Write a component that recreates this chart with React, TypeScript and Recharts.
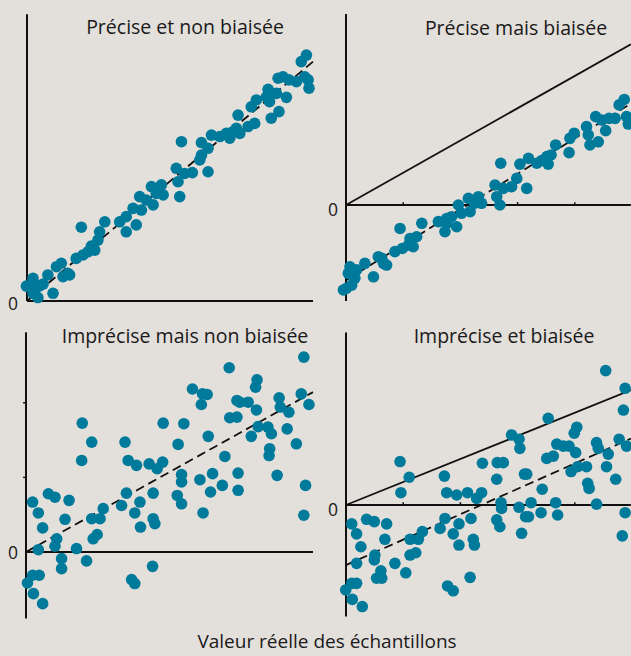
import { ScatterChart, Scatter, XAxis, YAxis, ReferenceLine } from 'recharts';

const BG = '#e3dfda';
const DOT = '#007a9a';
const FONT = '"Open Sans", "Noto Sans", sans-serif';

// [valeur réelle, valeur mesurée] — x de 0 à 100
const preciseUnbiased: [number, number][] = [
  [-0.2, 5.2], [2.1, 7.9], [1.5, 4.8], [3.8, 1.2], [4.2, 5.2], [5.6, 5.9], [7.3, 9.1], [9.1, 2.7],
  [10.3, 12.0], [12.0, 13.2], [12.6, 8.5], [14.3, 9.7], [17.2, 14.9], [19.0, 25.8], [19.6, 16.1],
  [21.3, 17.2], [22.5, 19.2], [23.7, 17.8], [24.8, 21.3], [25.4, 24.2], [27.2, 27.7], [32.4, 27.7],
  [34.7, 29.5], [34.7, 24.2], [37.1, 32.4], [38.2, 26.6], [39.4, 36.5], [40.0, 31.8], [41.7, 35.3],
  [43.5, 40.0], [44.1, 33.6], [45.2, 37.6], [47.0, 40.6], [47.6, 37.1], [52.2, 46.4], [52.8, 41.7],
  [53.4, 36.5], [54.0, 55.7], [55.1, 44.6], [57.8, 44.9], [60.4, 49.3], [61.0, 51.0], [61.0, 55.4],
  [63.3, 53.4], [63.3, 45.2], [64.5, 58.0], [67.4, 57.5], [69.7, 58.6], [70.9, 56.9], [72.0, 59.2],
  [73.2, 60.4], [73.8, 65.0], [74.4, 58.6], [77.3, 61.0], [78.4, 67.9], [80.2, 70.3], [79.6, 62.1],
  [83.7, 71.4], [84.3, 74.0], [84.8, 69.7], [85.4, 63.9], [88.1, 66.2], [87.2, 72.6], [87.8, 77.9],
  [89.5, 78.4], [90.7, 71.2], [91.6, 77.3], [94.2, 76.7], [95.9, 83.7], [97.1, 78.4], [97.7, 86.0],
  [98.6, 74.4], [98.3, 77.3], [2.1, 2.7], [14.9, 9.1],
];

const preciseBiased: [number, number][] = [
  [-0.9, -29.7], [1.4, -21.6], [2.0, -28.0], [3.1, -25.6], [3.7, -22.7], [6.6, -20.4], [9.6, -25.1],
  [11.3, -18.1], [13.1, -20.4], [14.2, -21.0], [17.1, -16.3], [18.9, -8.2], [19.7, -15.2], [21.8, -14.0],
  [22.4, -11.7], [23.5, -14.6], [24.7, -11.1], [26.5, -6.4], [32.3, -5.8], [34.6, -9.3], [35.2, -4.7],
  [36.9, -4.1], [38.7, -7.6], [39.3, 0], [40.4, -2.9], [42.8, 2.3], [43.4, -2.3], [44.9, 0.6],
  [46.3, 2.9], [47.4, 0.6], [52.1, 7.0], [52.7, 2.9], [53.8, 0], [54.1, 14.6], [55.0, 5.8], [57.9, 6.4],
  [59.7, 9.3], [60.8, 14.3], [63.2, 5.8], [63.8, 16.3], [66.7, 14.6], [68.4, 15.5], [70.2, 16.9],
  [70.7, 14.3], [71.7, 17.5], [73.3, 21.0], [78.0, 18.3], [78.3, 23.3], [79.8, 25.1], [84.1, 27.4],
  [84.7, 24.5], [85.3, 21.0], [87.3, 30.9], [88.2, 22.1], [89.4, 29.7], [90.8, 26.0], [92.0, 30.3],
  [94.1, 30.3], [95.5, 35.0], [97.3, 36.9], [98.1, 30.9], [98.7, 28.3], [0.2, -29.1], [0.8, -23.9],
  [12.5, -18.6], [35.2, -6.4],
];

const impreciseUnbiased: [number, number][] = [
  [2.3, 17.4], [4.3, 13.6], [4.3, 0.8], [5.8, 8.4], [7.8, 20.3], [10.1, 19.1], [10.7, 4.6], [10.1, 2.0],
  [12.4, -2.3], [12.4, -5.8], [13.6, 11.4], [15.0, 18.0], [17.6, 1.2], [19.6, 44.9], [19.4, 31.9],
  [21.1, -3.1], [22.9, 38.3], [22.9, 11.6], [23.4, 4.6], [24.8, 6.1], [25.8, 11.6], [26.9, 15.1],
  [33.3, 16.2], [34.5, 38.3], [35.0, 20.5], [35.6, 31.9], [37.9, 13.6], [38.5, 30.2], [39.7, 17.4],
  [39.9, 8.7], [42.9, 30.7], [44.3, 20.5], [44.3, 11.6], [44.9, 9.9], [45.7, 29.0], [47.6, 31.3],
  [47.8, 44.9], [53.0, 37.5], [52.7, 19.7], [54.2, 16.8], [54.2, 27.0], [54.2, 24.4], [55.0, 44.7],
  [58.0, 56.8], [60.6, 25.2], [61.1, 51.4], [61.7, 13.6], [61.5, 55.1], [63.1, 54.9], [63.5, 40.3],
  [64.3, 20.9], [65.0, 27.3], [68.4, 23.2], [69.3, 33.3], [70.8, 64.2], [71.0, 46.8], [73.5, 52.8],
  [73.5, 47.0], [73.9, 27.5], [73.9, 21.5], [77.4, 52.2], [78.5, 40.3], [80.3, 49.5], [80.5, 60.0],
  [80.0, 57.4], [80.9, 43.7], [84.3, 43.5], [84.9, 36.0], [84.7, 33.6], [85.5, 41.2], [87.5, 26.7],
  [88.2, 53.7], [88.6, 50.5], [91.0, 42.9], [91.6, 48.7], [94.2, 37.7], [95.9, 55.1], [96.8, 67.9],
  [97.4, 23.2], [96.8, 12.8], [98.6, 51.4], [44.1, -5.0], [36.8, -9.6], [37.9, -11.0], [2.3, -8.1],
  [4.6, -8.1], [0.5, -10.8], [2.6, -14.5], [5.8, -18.0], [74.5, 52.2],
];

const impreciseBiased: [number, number][] = [
  [-0.1, -29.7], [2.0, -27.4], [3.7, -27.4], [2.0, -6.6], [3.7, -10.1], [3.7, -20.4], [5.2, -14.6],
  [2.2, -33.0], [5.7, -35.5], [7.2, -5.0], [9.9, -5.8], [10.1, -17.5], [9.9, -19.2], [10.7, -25.6],
  [12.5, -25.6], [12.2, -23.0], [13.6, -12.0], [14.2, -6.6], [17.1, -20.4], [18.9, 15.2], [19.2, 4.3],
  [20.9, -23.7], [22.1, 9.7], [22.4, -17.5], [22.4, -12.0], [24.4, -16.7], [25.3, -12.0], [26.7, -9.3],
  [32.9, -8.2], [34.4, 10.1], [34.6, -4.7], [35.2, 4.3], [35.5, -28.3], [37.5, -30.0], [37.5, -10.1],
  [38.7, 3.5], [39.5, -6.6], [39.5, -14.0], [42.5, 4.3], [43.7, -4.7], [43.4, -25.3], [44.5, -12.0],
  [44.9, -14.0], [45.7, 2.3], [47.4, 4.3], [47.7, 14.6], [52.7, 9.0], [52.7, -5.2], [53.8, -7.6],
  [54.2, 0.8], [54.4, -1.2], [55.0, 14.8], [57.9, 24.5], [60.5, 23.0], [60.8, 19.8], [60.5, -0.8],
  [61.4, -9.9], [62.8, -4.1], [63.2, 10.8], [63.8, -4.1], [64.7, 0.8], [68.2, -2.7], [68.6, 5.5],
  [70.2, 16.3], [70.7, 30.3], [72.5, 17.1], [73.3, 0.8], [73.7, 21.3], [74.0, -3.5], [76.0, 20.6],
  [78.0, 20.6], [78.7, 11.7], [79.8, 25.1], [80.7, 27.2], [80.3, 18.3], [81.0, 13.4], [84.1, 13.4],
  [84.5, 7.6], [85.0, 5.8], [87.6, 0.3], [87.6, 21.8], [88.2, 19.8], [90.8, 47.0], [91.1, 13.4],
  [91.7, 17.8], [94.3, 9.0], [95.5, 23.0], [97.0, 33.2], [97.6, 40.8], [97.6, -2.7], [96.6, -10.8],
  [98.1, 20.6], [52.9, 14.8], [62.4, 10.8],
];

// droites : [ordonnée à l'origine, pente]
const fitLines: [number, number][] = [[0, 0.837], [-26.3, 0.62], [0, 0.557], [-21, 0.444]];
const trueSlopes: (number | null)[] = [null, 0.564, null, 0.403];
const titles = ['Précise et non biaisée', 'Précise mais biaisée', 'Imprécise mais non biaisée', 'Imprécise et biaisée'];

const panels = [
  { pts: preciseUnbiased, left: 0, top: 0, w: 315, h: 320, ox: 27, oy: 301, k: 2.86, yTop: 100.3, yBot: 0, xEnd: 100, xTicks: [], yTicks: [], tx: 185, ty: 27, zx: 13, zy: 303 },
  { pts: preciseBiased, left: 315, top: 0, w: 316, h: 320, ox: 346, oy: 205, k: 2.86, yTop: 66.8, yBot: -33.6, xEnd: 99.6, xTicks: [20, 40, 60, 80], yTicks: [], tx: 516, ty: 28, zx: 333, zy: 209 },
  { pts: impreciseUnbiased, left: 0, top: 320, w: 315, h: 310, ox: 26, oy: 552, k: 2.87, yTop: 76.6, yBot: -23.2, xEnd: 100, xTicks: [], yTicks: [26, 52], tx: 185, ty: 336, zx: 13, zy: 552 },
  { pts: impreciseBiased, left: 315, top: 320, w: 316, h: 310, ox: 346, oy: 505, k: 2.86, yTop: 60.3, yBot: -39, xEnd: 99.6, xTicks: [20, 40, 60, 80], yTicks: [], tx: 504, ty: 336, zx: 333, zy: 509 },
];

const Dot = (props: any) => <circle cx={props.cx} cy={props.cy} r={5.8} fill={DOT} />;

function Panel({ p, i }: { p: (typeof panels)[number]; i: number }) {
  const xDom = [(p.left - p.ox) / p.k, (p.left + p.w - p.ox) / p.k];
  const yDom = [(p.oy - p.top - p.h) / p.k, (p.oy - p.top) / p.k];
  const data = p.pts.map(([x, y]) => ({ x, y }));
  const [b, m] = fitLines[i];
  const slope = trueSlopes[i];
  return (
    <div style={{ position: 'absolute', left: p.left, top: p.top, width: p.w, height: p.h }}>
      <ScatterChart width={p.w} height={p.h} margin={{ top: 0, right: 0, bottom: 0, left: 0 }}>
        <XAxis type="number" dataKey="x" domain={xDom} allowDataOverflow hide />
        <YAxis type="number" dataKey="y" domain={yDom} allowDataOverflow hide />
        <ReferenceLine segment={[{ x: 0, y: p.yBot }, { x: 0, y: p.yTop }]} stroke="#111" strokeWidth={2} ifOverflow="visible" />
        <ReferenceLine segment={[{ x: 0, y: 0 }, { x: p.xEnd, y: 0 }]} stroke="#111" strokeWidth={2} ifOverflow="visible" />
        {p.xTicks.map((t) => (
          <ReferenceLine key={'x' + t} segment={[{ x: t, y: 0 }, { x: t, y: 1 }]} stroke="#111" strokeWidth={1.5} ifOverflow="visible" />
        ))}
        {p.yTicks.map((t) => (
          <ReferenceLine key={'y' + t} segment={[{ x: -1, y: t }, { x: 0, y: t }]} stroke="#111" strokeWidth={1.5} ifOverflow="visible" />
        ))}
        {slope !== null && (
          <ReferenceLine segment={[{ x: 0, y: 0 }, { x: p.xEnd, y: slope * p.xEnd }]} stroke="#111" strokeWidth={1.8} ifOverflow="visible" />
        )}
        <ReferenceLine segment={[{ x: 0, y: b }, { x: p.xEnd, y: b + m * p.xEnd }]} stroke="#111" strokeWidth={1.8} strokeDasharray="9 5" ifOverflow="visible" />
        <Scatter data={data} shape={Dot} isAnimationActive={false} />
      </ScatterChart>
      <div style={{ position: 'absolute', left: p.tx - p.left - 160, top: p.ty - p.top - 13, width: 320, textAlign: 'center', fontSize: 19.5, lineHeight: '26px', color: '#1a1a1a', fontFamily: FONT }}>
        {titles[i]}
      </div>
      <div style={{ position: 'absolute', left: p.zx - p.left - 10, top: p.zy - p.top - 12, width: 20, textAlign: 'center', fontSize: 17.5, lineHeight: '24px', color: '#1a1a1a', fontFamily: FONT }}>
        0
      </div>
    </div>
  );
}

export default function App() {
  return (
    <div style={{ position: 'fixed', left: 0, top: 0, width: 631, height: 656, background: BG, overflow: 'hidden' }}>
      {panels.map((p, i) => (
        <Panel key={i} p={p} i={i} />
      ))}
      <div style={{ position: 'absolute', left: 127, top: 632, width: 400, textAlign: 'center', fontSize: 19, lineHeight: '18px', color: '#1a1a1a', fontFamily: FONT }}>
        Valeur réelle des échantillons
      </div>
    </div>
  );
}
